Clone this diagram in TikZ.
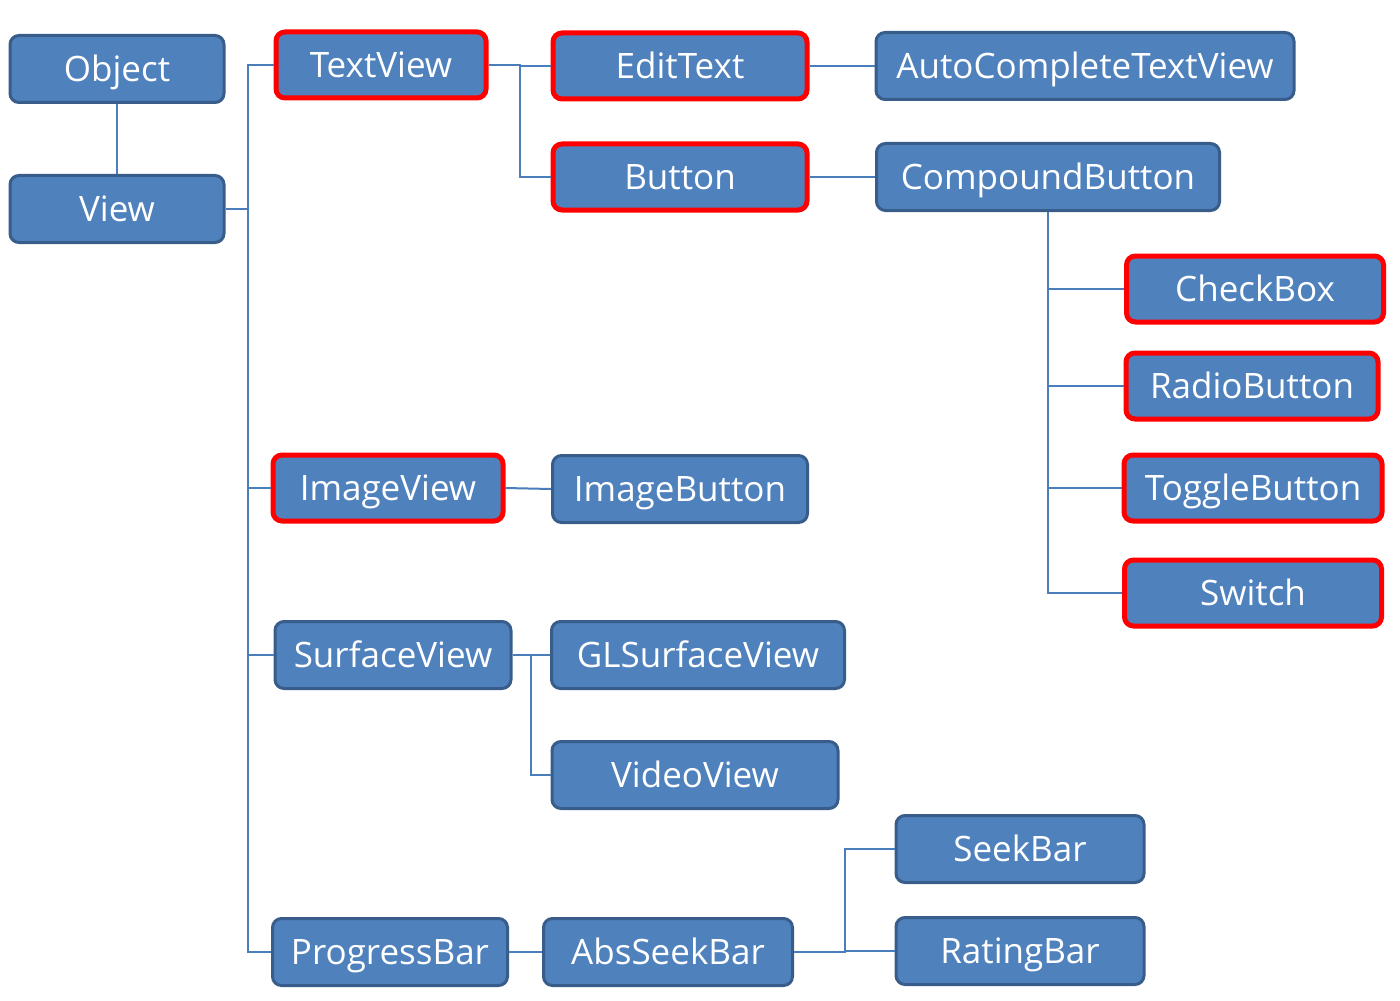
\documentclass[tikz,border=0pt]{standalone}
\usepackage{fontspec}
\setmainfont{Open Sans}
\definecolor{boxfill}{HTML}{4F81BD}
\definecolor{boxline}{HTML}{385D8A}
\definecolor{connline}{HTML}{4A7EBB}
\definecolor{hl}{HTML}{FF0000}
\tikzset{
  cls/.style={rectangle, rounded corners=4.5pt, fill=boxfill, draw=boxline, line width=1.5pt,
    text=white, font=\fontsize{17.5}{20}\selectfont, inner sep=0pt, minimum height=33.5pt,
    text height=14.5pt, text depth=2pt},
  hot/.style={cls, draw=hl, line width=2.5pt, minimum height=33pt},
  conn/.style={draw=connline, line width=1pt}
}
\begin{document}
\begin{tikzpicture}[x=0.5pt,y=-0.5pt]
\useasboundingbox (0,0) rectangle (1400,1000);
% nodes
\node[cls, minimum width=107pt] (object) at (117,69) {Object};
\node[cls, minimum width=107pt] (view) at (117,209) {View};
\node[hot, minimum width=105pt] (textview) at (381,65) {TextView};
\node[hot, minimum width=127pt] (edittext) at (680,66) {EditText};
\node[cls, minimum width=209pt] (autocomplete) at (1085,66) {AutoCompleteTextView};
\node[hot, minimum width=127pt] (button) at (680,177) {Button};
\node[cls, minimum width=171.5pt] (compound) at (1048,177) {CompoundButton};
\node[hot, minimum width=128.5pt] (checkbox) at (1255,289) {CheckBox};
\node[hot, minimum width=126pt] (radio) at (1252,386) {RadioButton};
\node[hot, minimum width=129pt] (toggle) at (1253,488) {ToggleButton};
\node[hot, minimum width=128.5pt] (switch) at (1253,593) {Switch};
\node[hot, minimum width=115pt] (imageview) at (388,488) {ImageView};
\node[cls, minimum width=127.5pt] (imagebutton) at (680,489) {ImageButton};
\node[cls, minimum width=118pt] (surface) at (393,655) {SurfaceView};
\node[cls, minimum width=146.5pt] (glsurface) at (698,655) {GLSurfaceView};
\node[cls, minimum width=143pt] (video) at (695,775) {VideoView};
\node[cls, minimum width=117.5pt] (progress) at (390,952) {ProgressBar};
\node[cls, minimum width=124.5pt] (absseek) at (668,952) {AbsSeekBar};
\node[cls, minimum width=124pt] (seek) at (1020,849) {SeekBar};
\node[cls, minimum width=124pt] (rating) at (1020,951) {RatingBar};
% junction coordinates
\coordinate (j1) at (248,209);
\coordinate (j2) at (520,65);
\coordinate (j3) at (1048,211);
\coordinate (j4) at (531,655);
\coordinate (j5) at (845,952);
% connectors
\draw[conn] (object.south) -- (view.north);
\draw[conn] (view.east) -- (j1);
\draw[conn] (textview.west) -| (j1) |- (progress.west);
\draw[conn] (imageview.west) -- (imageview.west -| j1);
\draw[conn] (surface.west) -- (surface.west -| j1);
\draw[conn] (textview.east) -- (j2) |- (edittext.west);
\draw[conn] (j2) |- (button.west);
\draw[conn] (edittext.east) -- (autocomplete.west);
\draw[conn] (button.east) -- (compound.west);
\draw[conn] (compound.south) |- (switch.west);
\draw[conn] (checkbox.west) -- (checkbox.west -| j3);
\draw[conn] (radio.west) -- (radio.west -| j3);
\draw[conn] (toggle.west) -- (toggle.west -| j3);
\draw[conn] (imageview.east) -- (imagebutton.west);
\draw[conn] (surface.east) -- (j4) |- (glsurface.west);
\draw[conn] (j4) |- (video.west);
\draw[conn] (progress.east) -- (absseek.west);
\draw[conn] (absseek.east) -- (j5) |- (seek.west);
\draw[conn] (j5) |- (rating.west);
\end{tikzpicture}
\end{document}
